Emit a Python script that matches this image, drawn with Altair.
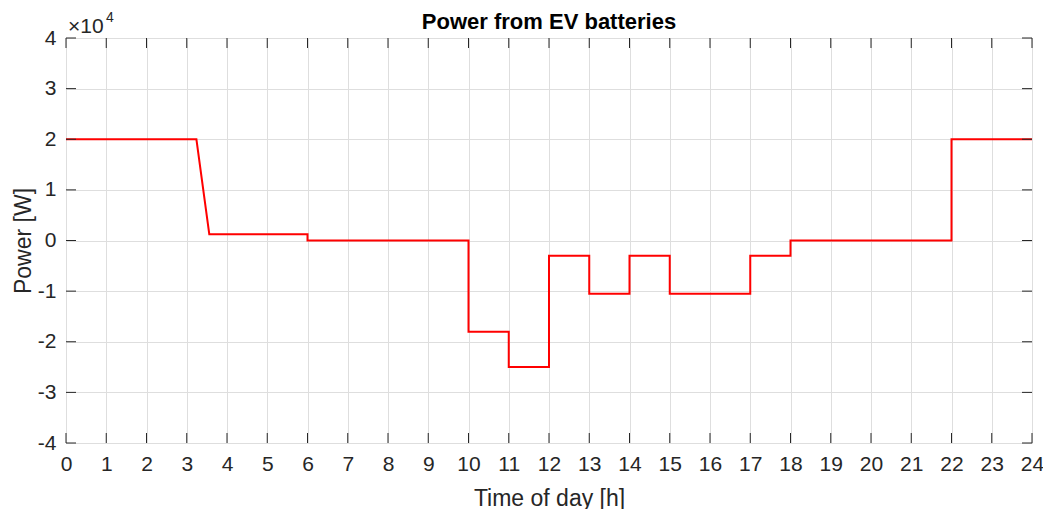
import altair as alt
import pandas as pd

# Data
hours = [0, 3.24, 3.56, 6, 6, 10, 10, 11, 11, 12, 12, 13, 13, 14, 14, 15, 15, 17, 17, 18, 18, 22, 22, 24]
power = [20000, 20000, 1250, 1250, 0, 0, -18000, -18000, -25000, -25000, -3000, -3000,
         -10500, -10500, -3000, -3000, -10500, -10500, -3000, -3000, 0, 0, 20000, 20000]
x_ticks = list(range(0, 25))
y_ticks = [-40000, -30000, -20000, -10000, 0, 10000, 20000, 30000, 40000]
title_text = "Power from EV batteries"

W, H = 966, 405
FONT = "Liberation Sans"
AX = "#262626"

df = pd.DataFrame({"hour": hours, "power": power, "order": list(range(len(hours)))})
xt = pd.DataFrame({"t": x_ticks})
yt = pd.DataFrame({"v": y_ticks})

xscale = alt.Scale(domain=[0, 24], nice=False, zero=False)
yscale = alt.Scale(domain=[-40000, 40000], nice=False, zero=False)

line = alt.Chart(df).mark_line(color="#ff0000", strokeWidth=2, clip=True).encode(
    x=alt.X("hour:Q", scale=xscale,
            axis=alt.Axis(title="Time of day [h]", values=x_ticks, tickSize=0, domain=False,
                          labelFlush=False, labelPadding=10, labelFontSize=21, titleFontSize=23,
                          titleBaseline="alphabetic", titleY=62, titleX=W / 2,
                          labelFont=FONT, titleFont=FONT, labelColor=AX, titleColor=AX,
                          titleFontWeight="normal", gridColor="#dedede", gridWidth=1)),
    y=alt.Y("power:Q", scale=yscale,
            axis=alt.Axis(title="Power [W]", values=y_ticks, tickSize=0, domain=False,
                          labelExpr="datum.value / 10000 + ''", labelFlush=False,
                          labelPadding=10, labelFontSize=21, titleFontSize=23,
                          titleBaseline="alphabetic", titleX=-36, titleY=H / 2, titleAngle=270,
                          labelFont=FONT, titleFont=FONT, labelColor=AX, titleColor=AX,
                          titleFontWeight="normal", gridColor="#dedede", gridWidth=1)),
    order="order:Q",
)

tick_len = 10
xt_bottom = alt.Chart(xt).mark_rule(color=AX, strokeWidth=1).encode(
    x=alt.X("t:Q", scale=xscale), y=alt.value(H - tick_len), y2=alt.value(H))
xt_top = alt.Chart(xt).mark_rule(color=AX, strokeWidth=1).encode(
    x=alt.X("t:Q", scale=xscale), y=alt.value(0), y2=alt.value(tick_len))
yt_left = alt.Chart(yt).mark_rule(color=AX, strokeWidth=1).encode(
    y=alt.Y("v:Q", scale=yscale), x=alt.value(0), x2=alt.value(tick_len))
yt_right = alt.Chart(yt).mark_rule(color=AX, strokeWidth=1).encode(
    y=alt.Y("v:Q", scale=yscale), x=alt.value(W - tick_len), x2=alt.value(W))

exp_df = pd.DataFrame({"x": [0], "y": [40000]})
exp_base = alt.Chart(exp_df).mark_text(text="×10", font=FONT, fontSize=21, color=AX,
                                       align="left", baseline="alphabetic", dx=2, dy=-5).encode(
    x=alt.X("x:Q", scale=xscale), y=alt.Y("y:Q", scale=yscale))
exp_sup = alt.Chart(exp_df).mark_text(text="4", font=FONT, fontSize=14, color=AX,
                                      align="left", baseline="alphabetic", dx=40, dy=-16).encode(
    x=alt.X("x:Q", scale=xscale), y=alt.Y("y:Q", scale=yscale))

title_df = pd.DataFrame({"x": [12], "y": [40000], "label": [title_text]})
title = alt.Chart(title_df).mark_text(font=FONT, fontSize=22, fontWeight="bold", color="#000000",
                                      align="center", baseline="alphabetic", dy=-9).encode(
    x=alt.X("x:Q", scale=xscale), y=alt.Y("y:Q", scale=yscale), text="label:N")

chart = alt.layer(line, xt_bottom, xt_top, yt_left, yt_right, exp_base, exp_sup, title).properties(
    width=W, height=H,
    autosize=alt.AutoSizeParams(type="none"),
    padding={"left": 58, "top": 30, "right": 11, "bottom": 66},
).configure_view(stroke=AX, strokeWidth=1.2).configure(background="white")

chart.save("out.html", embed_options={"renderer": "svg", "actions": False})
